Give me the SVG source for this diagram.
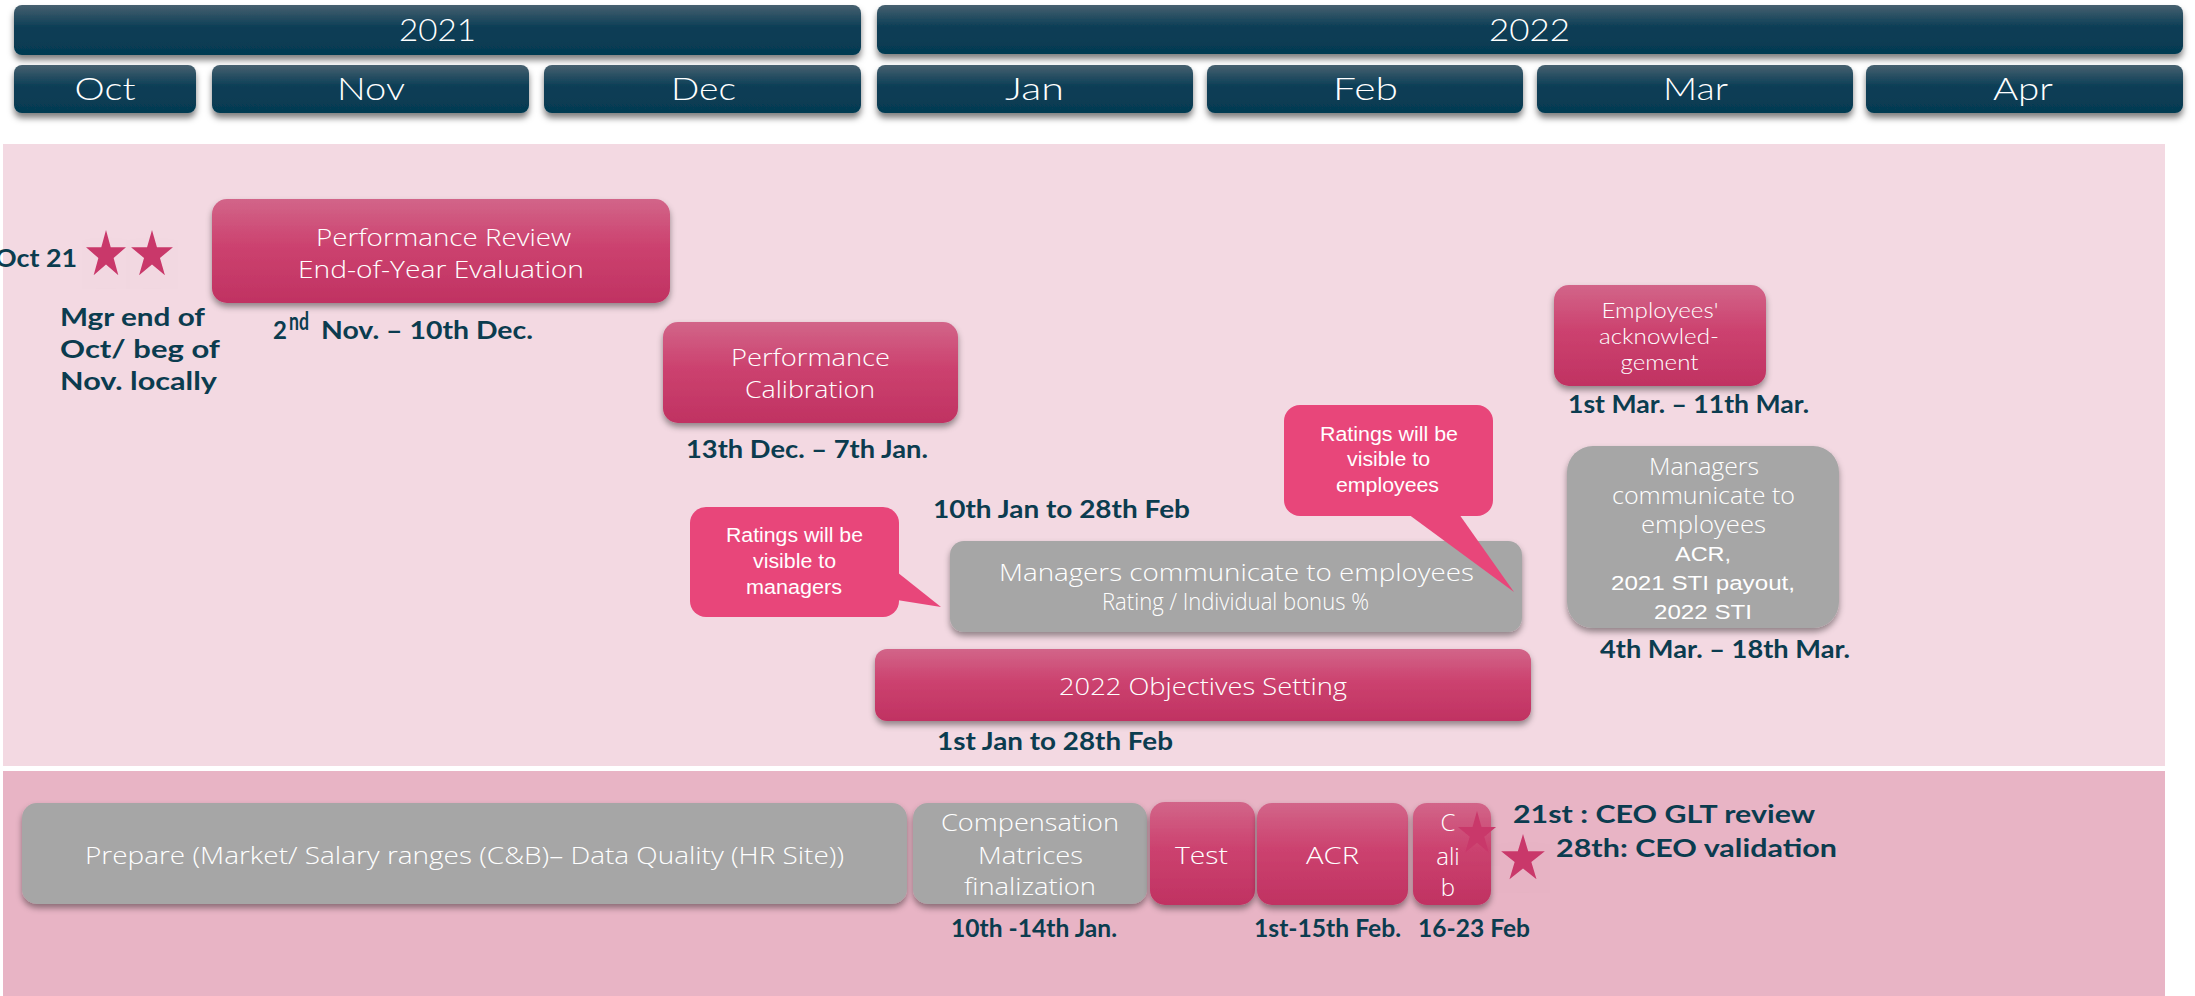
<svg xmlns="http://www.w3.org/2000/svg" xmlns:xlink="http://www.w3.org/1999/xlink" width="2195" height="996" viewBox="0 0 2195 996">
<defs>
<linearGradient id="gHead" x1="0" y1="0" x2="0" y2="1">
<stop offset="0" stop-color="#46606f"/><stop offset="0.45" stop-color="#0b3e56"/><stop offset="1" stop-color="#053a51"/>
</linearGradient>
<linearGradient id="gPink" x1="0" y1="0" x2="0" y2="1">
<stop offset="0" stop-color="#d26589"/><stop offset="0.45" stop-color="#cc426f"/><stop offset="1" stop-color="#c03262"/>
</linearGradient>
<filter id="sh" x="-10%" y="-20%" width="120%" height="150%">
<feDropShadow dx="0" dy="4" stdDeviation="3" flood-color="#000" flood-opacity="0.4"/>
</filter>
<filter id="shH" x="-10%" y="-20%" width="120%" height="160%">
<feDropShadow dx="0" dy="5" stdDeviation="3" flood-color="#000" flood-opacity="0.5"/>
</filter>
<polygon id="star" points="0,-1 0.2245,-0.309 0.951,-0.309 0.363,0.118 0.588,0.809 0,0.382 -0.588,0.809 -0.363,0.118 -0.951,-0.309 -0.2245,-0.309"/>
<style>
.hd{fill:url(#gHead);filter:url(#shH)}
.ht{font-family:Lato,"Open Sans",sans-serif;font-weight:300;font-size:31px;fill:#fff;text-anchor:middle}
.pk{fill:url(#gPink);filter:url(#sh)}
.gy{fill:#a6a6a6;filter:url(#sh)}
.co{fill:#e8467a}
.bt{font-family:"Open Sans",Lato,sans-serif;font-weight:300;fill:#fff;text-anchor:middle;font-size:24px}
.bl{font-family:Lato,"Open Sans",sans-serif;font-weight:300;fill:#fff;text-anchor:middle;font-size:21px}
.ct{font-family:"Liberation Sans",Arial,sans-serif;fill:#fff;text-anchor:middle;font-size:20px}
.lb{font-family:Lato,"Open Sans",sans-serif;font-weight:700;fill:#0b3c4f;font-size:24px}
.st{fill:#c9386a;filter:url(#sh)}
</style>
</defs>
<rect x="0" y="0" width="2195" height="996" fill="#fff"/>
<rect x="3" y="144" width="2162" height="622" fill="#f3d9e2"/>
<rect x="3" y="771" width="2162" height="225" fill="#e8b4c5"/>

<g id="year-2021"><rect class="hd" x="14" y="5" width="847" height="50" rx="8"/><text class="ht" x="437.5" y="41" textLength="77" lengthAdjust="spacingAndGlyphs">2021</text></g>
<g id="year-2022"><rect class="hd" x="877" y="5" width="1306" height="49" rx="8"/><text class="ht" x="1529.5" y="41" textLength="81" lengthAdjust="spacingAndGlyphs">2022</text></g>
<g id="m-oct"><rect class="hd" x="14" y="65" width="182" height="48" rx="8"/><text class="ht" x="105" y="100" textLength="61" lengthAdjust="spacingAndGlyphs">Oct</text></g>
<g id="m-nov"><rect class="hd" x="212" y="65" width="317" height="48" rx="8"/><text class="ht" x="371" y="100" textLength="68" lengthAdjust="spacingAndGlyphs">Nov</text></g>
<g id="m-dec"><rect class="hd" x="544" y="65" width="317" height="48" rx="8"/><text class="ht" x="703.5" y="100" textLength="65" lengthAdjust="spacingAndGlyphs">Dec</text></g>
<g id="m-jan"><rect class="hd" x="877" y="65" width="316" height="48" rx="8"/><text class="ht" x="1034.5" y="100" textLength="59" lengthAdjust="spacingAndGlyphs">Jan</text></g>
<g id="m-feb"><rect class="hd" x="1207" y="65" width="316" height="48" rx="8"/><text class="ht" x="1365.5" y="100" textLength="65" lengthAdjust="spacingAndGlyphs">Feb</text></g>
<g id="m-mar"><rect class="hd" x="1537" y="65" width="316" height="48" rx="8"/><text class="ht" x="1695.5" y="100" textLength="65" lengthAdjust="spacingAndGlyphs">Mar</text></g>
<g id="m-apr"><rect class="hd" x="1866" y="65" width="317" height="48" rx="8"/><text class="ht" x="2023" y="100" textLength="60" lengthAdjust="spacingAndGlyphs">Apr</text></g>

<g id="oct21">
<text class="lb" x="77" y="267" text-anchor="end" font-size="26" textLength="82" lengthAdjust="spacingAndGlyphs">Oct 21</text>
<use href="#star" class="st" transform="translate(106,255) scale(21,25)"/>
<use href="#star" class="st" transform="translate(152,255) scale(22,25)"/>
<text class="lb" x="60" y="326" font-size="25" textLength="145" lengthAdjust="spacingAndGlyphs">Mgr end of</text>
<text class="lb" x="60" y="358" font-size="25" textLength="160" lengthAdjust="spacingAndGlyphs">Oct/ beg of</text>
<text class="lb" x="60" y="390" font-size="25" textLength="157" lengthAdjust="spacingAndGlyphs">Nov. locally</text>
</g>

<g id="perf-review">
<rect class="pk" x="212" y="199" width="458" height="104" rx="15"/>
<text class="bt" x="443.5" y="246" textLength="255" lengthAdjust="spacingAndGlyphs">Performance Review</text>
<text class="bt" x="441" y="278" textLength="286" lengthAdjust="spacingAndGlyphs">End-of-Year Evaluation</text>
<text class="lb" x="273" y="339">2</text>
<text class="lb" x="289" y="330" font-size="14" textLength="20" lengthAdjust="spacingAndGlyphs">nd</text>
<text class="lb" x="321" y="339" textLength="212" lengthAdjust="spacingAndGlyphs">Nov. – 10th Dec.</text>
</g>

<g id="perf-calibration">
<rect class="pk" x="663" y="322" width="295" height="101" rx="15"/>
<text class="bt" x="810.5" y="366" textLength="159" lengthAdjust="spacingAndGlyphs">Performance</text>
<text class="bt" x="810" y="398" textLength="130" lengthAdjust="spacingAndGlyphs">Calibration</text>
<text class="lb" x="686" y="458" textLength="242" lengthAdjust="spacingAndGlyphs">13th Dec. – 7th Jan.</text>
</g>

<g id="mgr-communicate">
<text class="lb" x="933" y="518" textLength="257" lengthAdjust="spacingAndGlyphs">10th Jan to 28th Feb</text>
<rect class="gy" x="950" y="541" width="572" height="91" rx="14"/>
<text class="bt" x="1236.5" y="581" font-size="25" textLength="475" lengthAdjust="spacingAndGlyphs">Managers communicate to employees</text>
<text class="bt" x="1235.5" y="610" font-size="19" textLength="267" lengthAdjust="spacingAndGlyphs">Rating / Individual bonus %</text>
</g>

<g id="callout-managers">
<rect class="co" x="690" y="507" width="209" height="110" rx="16"/>
<polygon class="co" points="897,572 941,607 897,600"/>
<text class="ct" x="794.5" y="542" textLength="137" lengthAdjust="spacingAndGlyphs">Ratings will be</text>
<text class="ct" x="794.5" y="568" textLength="83" lengthAdjust="spacingAndGlyphs">visible to</text>
<text class="ct" x="794" y="594" textLength="96" lengthAdjust="spacingAndGlyphs">managers</text>
</g>

<g id="callout-employees">
<rect class="co" x="1284" y="405" width="209" height="111" rx="16"/>
<polygon class="co" points="1408,514 1514,592 1459,514"/>
<text class="ct" x="1389" y="441" textLength="138" lengthAdjust="spacingAndGlyphs">Ratings will be</text>
<text class="ct" x="1388.5" y="466" textLength="83" lengthAdjust="spacingAndGlyphs">visible to</text>
<text class="ct" x="1387.5" y="492" textLength="103" lengthAdjust="spacingAndGlyphs">employees</text>
</g>

<g id="objectives">
<rect class="pk" x="875" y="649" width="656" height="72" rx="12"/>
<text class="bt" x="1203" y="695" font-size="25" textLength="288" lengthAdjust="spacingAndGlyphs">2022 Objectives Setting</text>
<text class="lb" x="937" y="750" textLength="236" lengthAdjust="spacingAndGlyphs">1st Jan to 28th Feb</text>
</g>

<g id="employees-ack">
<rect class="pk" x="1554" y="285" width="212" height="101" rx="15"/>
<text class="bl" x="1660" y="318" textLength="117" lengthAdjust="spacingAndGlyphs">Employees'</text>
<text class="bl" x="1659" y="344" textLength="120" lengthAdjust="spacingAndGlyphs">acknowled-</text>
<text class="bl" x="1659.5" y="370" textLength="78" lengthAdjust="spacingAndGlyphs">gement</text>
<text class="lb" x="1568" y="413" textLength="241" lengthAdjust="spacingAndGlyphs">1st Mar. – 11th Mar.</text>
</g>

<g id="mgr-communicate-mar">
<rect class="gy" x="1567" y="446" width="272" height="182" rx="26"/>
<text class="bt" x="1704" y="475" textLength="110" lengthAdjust="spacingAndGlyphs">Managers</text>
<text class="bt" x="1703.5" y="504" textLength="183" lengthAdjust="spacingAndGlyphs">communicate to</text>
<text class="bt" x="1703.5" y="533" textLength="125" lengthAdjust="spacingAndGlyphs">employees</text>
<text class="ct" x="1703" y="561" font-size="23" textLength="56" lengthAdjust="spacingAndGlyphs">ACR,</text>
<text class="ct" x="1703" y="590" font-size="23" textLength="184" lengthAdjust="spacingAndGlyphs">2021 STI payout,</text>
<text class="ct" x="1703" y="619" font-size="23" textLength="98" lengthAdjust="spacingAndGlyphs">2022 STI</text>
<text class="lb" x="1600" y="658" textLength="250" lengthAdjust="spacingAndGlyphs">4th Mar. – 18th Mar.</text>
</g>

<g id="prepare">
<rect class="gy" x="22" y="803" width="885" height="101" rx="15"/>
<text class="bt" x="464.5" y="864" textLength="759" lengthAdjust="spacingAndGlyphs">Prepare (Market/ Salary ranges  (C&amp;B)– Data Quality (HR Site))</text>
</g>

<g id="compensation">
<rect class="gy" x="913" y="803" width="234" height="101" rx="15"/>
<text class="bt" x="1030" y="831" textLength="178" lengthAdjust="spacingAndGlyphs">Compensation</text>
<text class="bt" x="1030.5" y="864" textLength="105" lengthAdjust="spacingAndGlyphs">Matrices</text>
<text class="bt" x="1030" y="895" textLength="132" lengthAdjust="spacingAndGlyphs">finalization</text>
<text class="lb" x="951" y="937" font-size="21" textLength="166" lengthAdjust="spacingAndGlyphs">10th -14th Jan.</text>
</g>

<g id="test">
<rect class="pk" x="1150" y="802" width="105" height="103" rx="15"/>
<text class="bt" x="1201.5" y="864" textLength="53" lengthAdjust="spacingAndGlyphs">Test</text>
</g>

<g id="acr">
<rect class="pk" x="1257" y="803" width="151" height="102" rx="15"/>
<text class="bt" x="1332.5" y="864" textLength="53" lengthAdjust="spacingAndGlyphs">ACR</text>
<text class="lb" x="1254" y="937" font-size="21" textLength="147" lengthAdjust="spacingAndGlyphs">1st-15th Feb.</text>
</g>

<g id="calib">
<rect class="pk" x="1413" y="803" width="78" height="102" rx="14"/>
<text class="bt" x="1448" y="831">C</text>
<text class="bt" x="1448" y="865">ali</text>
<text class="bt" x="1448" y="896">b</text>
<text class="lb" x="1418" y="937" font-size="21" textLength="112" lengthAdjust="spacingAndGlyphs">16-23 Feb</text>
</g>

<g id="ceo">
<use href="#star" class="st" transform="translate(1477,834) scale(20,23)"/>
<use href="#star" class="st" transform="translate(1523,859) scale(23,25)"/>
<text class="lb" x="1513" y="823" font-size="25" textLength="302" lengthAdjust="spacingAndGlyphs">21st : CEO GLT review</text>
<text class="lb" x="1556" y="857" font-size="25" textLength="281" lengthAdjust="spacingAndGlyphs">28th: CEO validation</text>
</g>
</svg>
